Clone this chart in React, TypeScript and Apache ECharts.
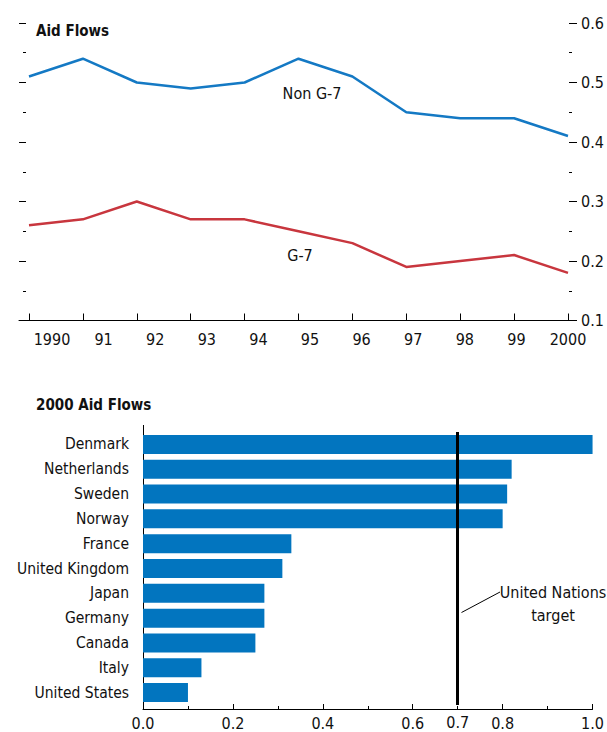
import React, { useEffect, useRef } from "react";
import * as echarts from "echarts";

const years = ["1990", "91", "92", "93", "94", "95", "96", "97", "98", "99", "2000"];
const nonG7 = [0.51, 0.54, 0.5, 0.49, 0.5, 0.54, 0.51, 0.45, 0.44, 0.44, 0.41];
const g7 = [0.26, 0.27, 0.3, 0.27, 0.27, 0.25, 0.23, 0.19, 0.2, 0.21, 0.18];

const countries = [
  "Denmark",
  "Netherlands",
  "Sweden",
  "Norway",
  "France",
  "United Kingdom",
  "Japan",
  "Germany",
  "Canada",
  "Italy",
  "United States",
];
const aid2000 = [1.0, 0.82, 0.81, 0.8, 0.33, 0.31, 0.27, 0.27, 0.25, 0.13, 0.1];
const unTarget = 0.7;

const FONT = "'DejaVu Sans Condensed', 'Liberation Sans Narrow', 'Arial Narrow', Roboto, sans-serif";
const BLUE = "#1479C4";
const RED = "#C8363E";
const BAR = "#0275BF";
const TXT = "#111";

export default function App() {
  const ref = useRef<HTMLDivElement>(null);
  useEffect(() => {
    if (!ref.current) return;
    const chart = echarts.init(ref.current, undefined, { renderer: "svg" });
    const hiddenY = (gi: number) => ({
      gridIndex: gi,
      type: "value",
      show: false,
      min: 0,
      max: 1,
      splitLine: { show: false },
    });
    chart.setOption({
      animation: false,
      textStyle: { fontFamily: FONT },
      title: [
        {
          text: "Aid Flows",
          left: 36,
          top: 23.5,
          padding: 0,
          textStyle: { fontFamily: FONT, fontSize: 15, fontWeight: "bold", color: TXT },
        },
        {
          text: "2000 Aid Flows",
          left: 36,
          top: 397.5,
          padding: 0,
          textStyle: { fontFamily: FONT, fontSize: 15, fontWeight: "bold", color: TXT },
        },
      ],
      grid: [
        { left: 29, right: 39, top: 23, bottom: 411.5 },
        { left: 52, right: 39, top: 23, bottom: 411.5 },
        { left: 19, right: 37, top: 23, bottom: 411.5 },
        { left: 143, right: 14, top: 432, bottom: 27 },
      ],
      xAxis: [
        {
          gridIndex: 0,
          type: "category",
          data: years,
          boundaryGap: false,
          axisLine: { show: false },
          axisTick: { show: true, inside: true, length: 7, lineStyle: { color: "#000", width: 1 } },
          axisLabel: { show: false },
          splitLine: { show: false },
        },
        {
          gridIndex: 1,
          type: "category",
          data: years,
          boundaryGap: false,
          axisLine: { show: false },
          axisTick: { show: false },
          axisLabel: { show: true, margin: 11, fontSize: 16, color: TXT, fontFamily: FONT },
          splitLine: { show: false },
        },
        {
          gridIndex: 2,
          type: "category",
          data: [""],
          axisLine: { show: true, lineStyle: { color: "#000", width: 1 } },
          axisTick: { show: false },
          axisLabel: { show: false },
          splitLine: { show: false },
        },
        {
          gridIndex: 3,
          type: "value",
          min: 0,
          max: 1,
          interval: 0.2,
          offset: 4,
          axisLine: { show: true, lineStyle: { color: "#000", width: 1 } },
          axisTick: { show: true, inside: true, length: 5, lineStyle: { color: "#000" } },
          minorTick: { show: true, splitNumber: 2, length: 3, lineStyle: { color: "#000" } },
          axisLabel: {
            margin: 6,
            fontSize: 16,
            color: TXT,
            fontFamily: FONT,
            formatter: (v: number) => v.toFixed(1),
          },
          splitLine: { show: false },
          minorSplitLine: { show: false },
        },
      ],
      yAxis: [
        {
          gridIndex: 0,
          type: "value",
          position: "left",
          min: 0.1,
          max: 0.6,
          interval: 0.1,
          offset: 3,
          axisLine: { show: false },
          axisTick: { show: true, length: 7, lineStyle: { color: "#000" } },
          minorTick: { show: true, splitNumber: 2, length: 3, lineStyle: { color: "#000" } },
          axisLabel: { show: false },
          splitLine: { show: false },
          minorSplitLine: { show: false },
        },
        {
          gridIndex: 0,
          type: "value",
          position: "right",
          min: 0.1,
          max: 0.6,
          interval: 0.1,
          offset: 1,
          axisLine: { show: false },
          axisTick: { show: true, length: 8, lineStyle: { color: "#000" } },
          minorTick: { show: true, splitNumber: 2, length: 3, lineStyle: { color: "#000" } },
          axisLabel: {
            show: true,
            margin: 12,
            fontSize: 16,
            color: TXT,
            fontFamily: FONT,
            formatter: (v: number) => v.toFixed(1),
          },
          splitLine: { show: false },
          minorSplitLine: { show: false },
        },
        hiddenY(1),
        hiddenY(2),
        {
          gridIndex: 3,
          type: "category",
          data: countries,
          inverse: true,
          axisLine: { show: false },
          axisTick: { show: false },
          axisLabel: { margin: 14, fontSize: 15.5, color: TXT, fontFamily: FONT },
          splitLine: { show: false },
        },
      ],
      series: [
        {
          name: "Non G-7",
          type: "line",
          xAxisIndex: 0,
          yAxisIndex: 0,
          data: nonG7,
          symbol: "none",
          lineStyle: { color: BLUE, width: 2.5 },
          itemStyle: { color: BLUE },
        },
        {
          name: "G-7",
          type: "line",
          xAxisIndex: 0,
          yAxisIndex: 0,
          data: g7,
          symbol: "none",
          lineStyle: { color: RED, width: 2.5 },
          itemStyle: { color: RED },
        },
        {
          name: "2000",
          type: "bar",
          xAxisIndex: 3,
          yAxisIndex: 4,
          data: aid2000,
          barWidth: 19,
          itemStyle: { color: BAR },
          markLine: {
            silent: true,
            symbol: "none",
            lineStyle: { color: "#000", width: 3, type: "solid" },
            label: {
              show: true,
              position: "end",
              distance: 9,
              formatter: String(unTarget),
              fontSize: 16,
              color: TXT,
              fontFamily: FONT,
            },
            data: [{ xAxis: unTarget }],
          },
        },
      ],
      graphic: [
        {
          type: "line",
          shape: { x1: 143.5, y1: 425, x2: 143.5, y2: 709 },
          style: { stroke: "#000", lineWidth: 1 },
        },
        {
          type: "line",
          shape: { x1: 461.5, y1: 612.5, x2: 500, y2: 592 },
          style: { stroke: "#000", lineWidth: 1 },
        },
        {
          type: "text",
          x: 553,
          y: 581,
          style: {
            text: "United Nations\ntarget",
            textAlign: "center",
            fontSize: 16,
            lineHeight: 23,
            fontFamily: FONT,
            fill: TXT,
          },
        },
        {
          type: "text",
          x: 312,
          y: 85,
          style: { text: "Non G-7", textAlign: "center", fontSize: 16, fontFamily: FONT, fill: TXT },
        },
        {
          type: "text",
          x: 300,
          y: 247,
          style: { text: "G-7", textAlign: "center", fontSize: 16, fontFamily: FONT, fill: TXT },
        },
      ],
    });
    return () => chart.dispose();
  }, []);
  return (
    <div
      ref={ref}
      style={{ position: "absolute", left: 0, top: 0, width: 607, height: 732 }}
    />
  );
}
